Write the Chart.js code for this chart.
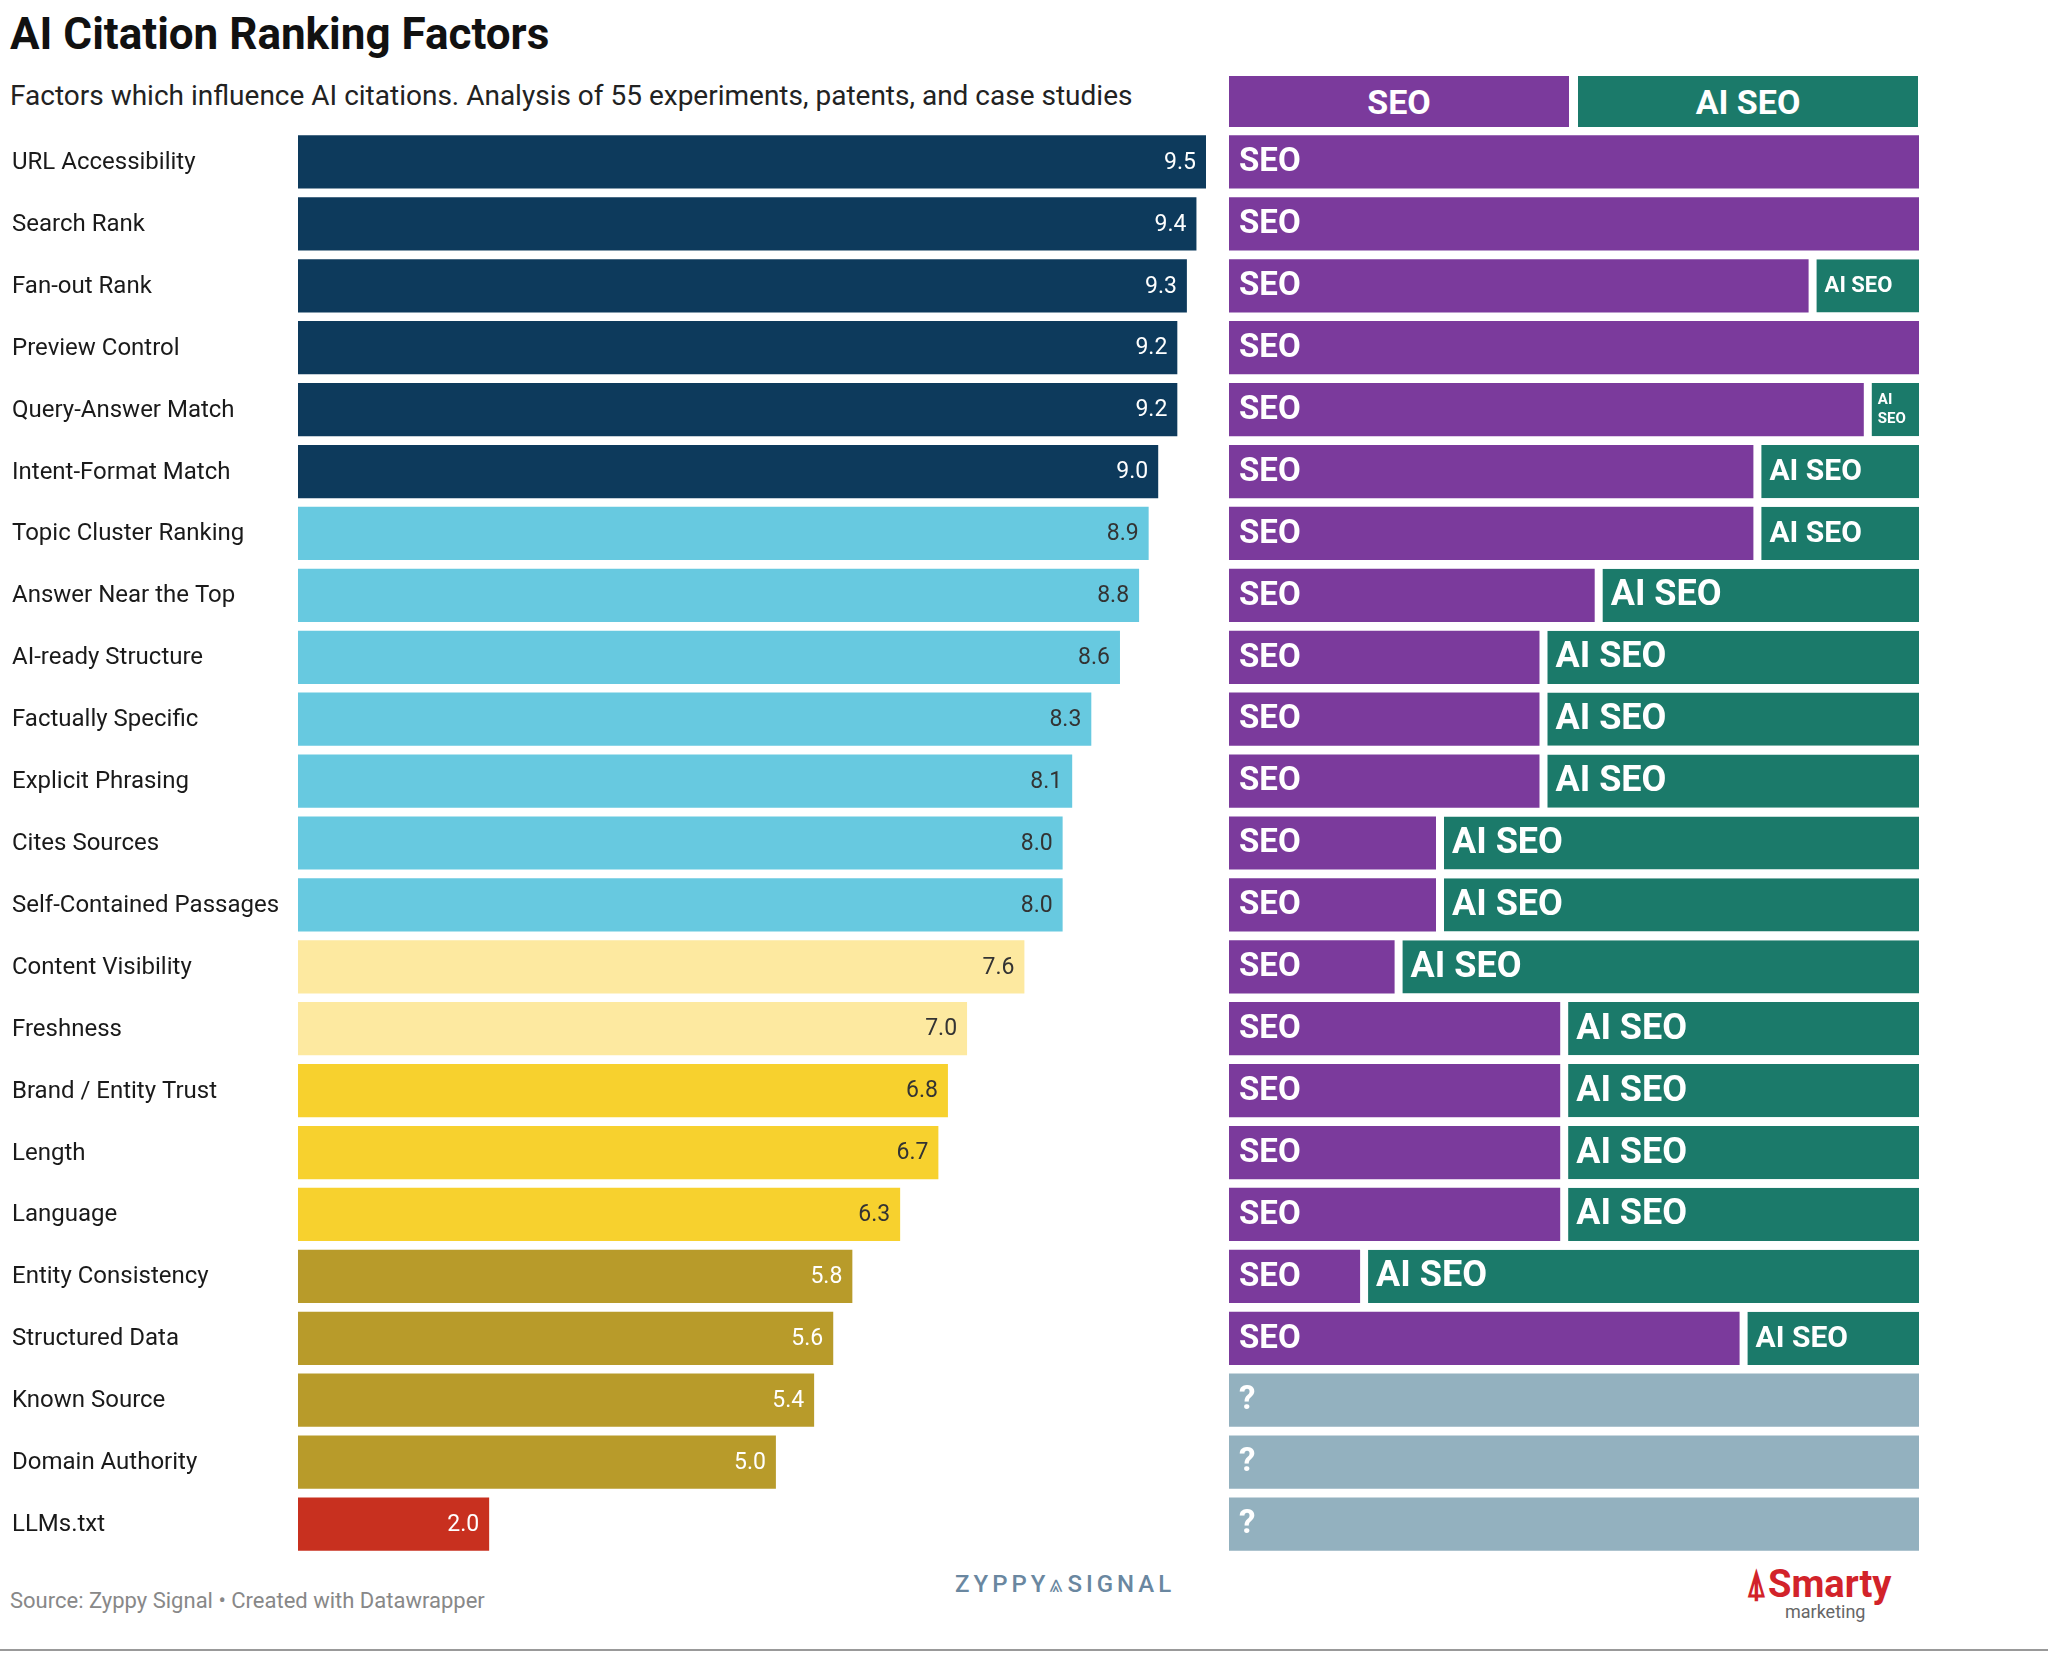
<!DOCTYPE html>
<html><head><meta charset="utf-8">
<script src="https://cdn.jsdelivr.net/npm/chart.js@4"></script>
<style>
body{margin:0;width:2048px;height:1653px;background:#fff;font-family:Roboto,sans-serif;position:relative;overflow:hidden}
#t{position:absolute;left:10px;top:8px;font-size:44px;font-weight:700;color:#111}
#s{position:absolute;left:10px;top:79px;font-size:28px;color:#222}
.hb{position:absolute;top:76px;height:51px;color:#fff;font-weight:700;font-size:34px;display:flex;align-items:center;justify-content:center}
#src{position:absolute;left:10px;top:1588px;font-size:22px;color:#888}
#zy{position:absolute;left:955px;top:1570px;font-size:24px;letter-spacing:4px;color:#6a87a0;font-weight:500}
#sm{position:absolute;left:1745px;top:1565px;font-size:38px;color:#d2232a;font-weight:700;line-height:1}
#sm span{display:block;font-size:18px;color:#666;font-weight:400;margin-left:40px}
#ln{position:absolute;left:0;top:1649px;width:2048px;height:2px;background:#999}
canvas{position:absolute}
</style></head><body>
<div id="t">AI Citation Ranking Factors</div>
<div id="s">Factors which influence AI citations. Analysis of 55 experiments, patents, and case studies</div>
<div class="hb" style="left:1229px;width:340px;background:#7b3a9c">SEO</div>
<div class="hb" style="left:1578px;width:340px;background:#1b7a6a">AI SEO</div>
<div style="position:absolute;left:0;top:131px;width:1212px;height:1424px"><canvas id="c1"></canvas></div>
<div style="position:absolute;left:1229px;top:131px;width:690px;height:1424px"><canvas id="c2"></canvas></div>
<div id="src">Source: Zyppy Signal • Created with Datawrapper</div>
<div id="zy">ZYPPY⩓SIGNAL</div>
<div id="sm">⍋Smarty<span>marketing</span></div>
<div id="ln"></div>
<script>
const factors=["URL Accessibility","Search Rank","Fan-out Rank","Preview Control","Query-Answer Match","Intent-Format Match","Topic Cluster Ranking","Answer Near the Top","AI-ready Structure","Factually Specific","Explicit Phrasing","Cites Sources","Self-Contained Passages","Content Visibility","Freshness","Brand / Entity Trust","Length","Language","Entity Consistency","Structured Data","Known Source","Domain Authority","LLMs.txt"];
const scores=[9.5,9.4,9.3,9.2,9.2,9.0,8.9,8.8,8.6,8.3,8.1,8.0,8.0,7.6,7.0,6.8,6.7,6.3,5.8,5.6,5.4,5.0,2.0];
const tiers=[0,0,0,0,0,0,1,1,1,1,1,1,1,2,2,3,3,3,4,4,4,4,5];
const seoShare=[100,100,84,100,92,76,76,53,45,45,45,30,30,24,48,48,48,48,19,74,null,null,null];
const tierColors=["#0d3a5c","#67c9e0","#fde9a0","#f7d12e","#b89b2a","#c8301f"];
const tierText=["#fff","#333","#333","#333","#fff","#fff"];
const aiShare=seoShare.map(v=>v===null?null:100-v);
const unknown=seoShare.map(v=>v===null?100:null);

new Chart(document.getElementById('c1'),{type:'bar',
data:{labels:factors,datasets:[{data:scores,backgroundColor:tiers.map(t=>tierColors[t]),categoryPercentage:0.86,barPercentage:1}]},
options:{indexAxis:'y',responsive:true,maintainAspectRatio:false,animation:false,layout:{padding:{left:298,right:6}},
plugins:{legend:{display:false},tooltip:{enabled:false}},
scales:{x:{display:false,min:0,max:9.5},y:{display:false}}},
plugins:[{id:'vals',afterDatasetsDraw(c){const x=c.ctx;x.save();x.textBaseline='middle';
c.getDatasetMeta(0).data.forEach((b,i)=>{x.font='23px Roboto';x.textAlign='right';x.fillStyle=tierText[tiers[i]];x.fillText(scores[i].toFixed(1),b.x-10,b.y+1);
x.font='24px Roboto';x.textAlign='left';x.fillStyle='#1a1a1a';x.fillText(factors[i],12,b.y+1);});x.restore();}}]});

new Chart(document.getElementById('c2'),{type:'bar',
data:{labels:factors,datasets:[
{label:'SEO',data:seoShare,backgroundColor:'#7b3a9c',categoryPercentage:0.86,barPercentage:1},
{label:'AI SEO',data:aiShare,backgroundColor:'#1b7a6a',borderColor:'#fff',borderWidth:{left:8},borderSkipped:false,categoryPercentage:0.86,barPercentage:1},
{label:'?',data:unknown,backgroundColor:'#93b1bf',categoryPercentage:0.86,barPercentage:1}]},
options:{indexAxis:'y',responsive:true,maintainAspectRatio:false,animation:false,layout:{padding:0},
plugins:{legend:{display:false},tooltip:{enabled:false}},
scales:{x:{display:false,stacked:true,min:0,max:100},y:{display:false,stacked:true}}},
plugins:[{id:'lbl',afterDatasetsDraw(c){const x=c.ctx;x.save();x.fillStyle='#fff';x.textBaseline='middle';x.textAlign='left';
const names=['SEO','AI SEO','?'];
c.data.datasets.forEach((d,di)=>{c.getDatasetMeta(di).data.forEach((b,i)=>{if(d.data[i]==null||d.data[i]<=0)return;
const w=b.x-b.base;let fs=33;
if(di===1){if(w<60){x.font='700 15px Roboto';x.fillText('AI',b.base+14,b.y-9);x.fillText('SEO',b.base+14,b.y+10);return;}
if(w<120)fs=22;else if(w<200)fs=30;else fs=36;}
x.font='700 '+fs+'px Roboto';x.fillText(names[di],b.base+(di===1?16:10),b.y+1);});});x.restore();}}]});
</script></body></html>
